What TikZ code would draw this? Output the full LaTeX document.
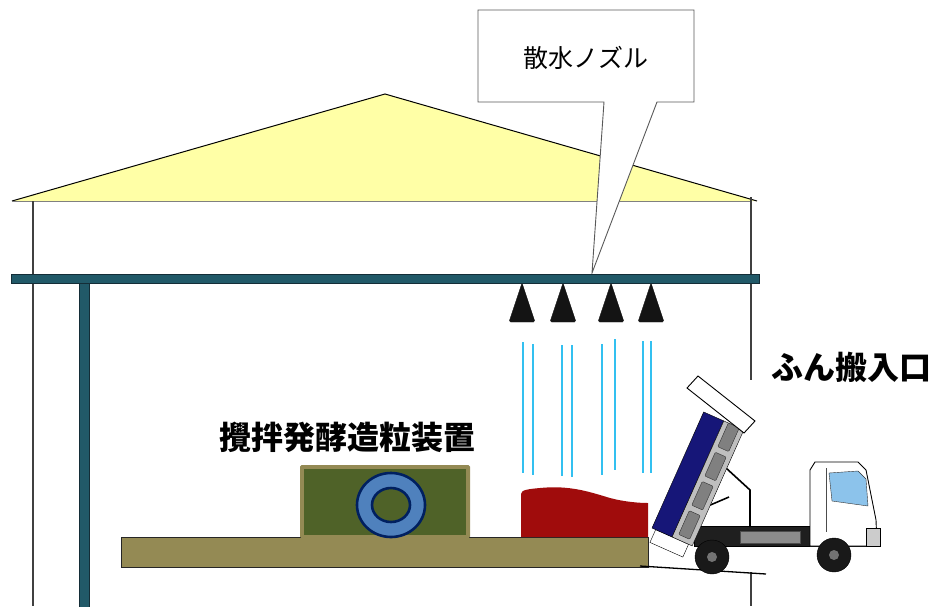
\documentclass[tikz,border=0pt]{standalone}
\usepackage{fontspec}
\usepackage{tikz}
\usetikzlibrary{positioning}
\newfontfamily\jp{Noto Sans CJK JP}
\definecolor{roofyellow}{RGB}{255,255,166}
\definecolor{beamteal}{RGB}{33,89,104}
\definecolor{beamedge}{RGB}{20,45,55}
\definecolor{khaki}{RGB}{148,138,84}
\definecolor{mossgreen}{RGB}{79,98,40}
\definecolor{ringblue}{RGB}{79,129,189}
\definecolor{ringnavy}{RGB}{0,32,96}
\definecolor{pilered}{RGB}{160,12,12}
\definecolor{spray}{RGB}{51,192,240}
\definecolor{bednavy}{RGB}{22,22,120}
\definecolor{glass}{RGB}{140,195,235}

\begin{document}
\begin{tikzpicture}
  [
    x=1pt, y=-1pt,
    Wall/.style={draw=black!75, line width=1.2pt},
    Beam/.style={fill=beamteal, draw=beamedge, line width=0.8pt},
    Nozzle/.style={fill=black!92, draw=black!92, rounded corners=1.5pt},
    Spray/.style={draw=spray, line width=1.4pt},
    Callout/.style={fill=white, draw=black!65, line width=0.9pt},
    Label/.style={font=\jp\fontsize{25}{28}\selectfont, inner sep=0pt},
    BoldLabel/.style={font=\jp\bfseries\fontsize{32}{35}\selectfont, inner sep=0pt},
    Wheel/.style={fill=black!90, draw=black}
  ]
  \useasboundingbox (0,0) rectangle (931,606);
  % Roof
  \fill[roofyellow] (12,201) -- (385,94) -- (757,201) -- cycle;
  \draw[black, line width=1pt] (12,201) -- (385,94) -- (757,201);
  \draw[black!50, line width=0.6pt] (12,201) -- (750,201);
  % Walls
  \draw[Wall] (33,201) -- (33,606);
  \draw[Wall] (751,197) -- (751,380);
  \draw[Wall] (751,572) -- (751,606);
  % Callout
  \draw[Callout] (478,10) -- (694,10) -- (694,102) -- (657,102)
    -- (592,273) -- (604,102) -- (478,102) -- cycle;
  \node[Label] (nozzlelabel) at (586,58) {散水ノズル};
  % Beam and column
  \draw[Beam] (11,274) rectangle (759,283);
  \draw[Beam] (79,283) rectangle (89,607);
  % Nozzles
  \foreach \cx [count=\i] in {522,563,611,651} {
    \draw[Nozzle] (\cx,283) -- (\cx+13,322) -- (\cx-13,322) -- cycle;
  }
  % Water
  \foreach \sx/\sa/\sb in {523/342/473, 533/344/475, 562/345/476, 572/345/477,
                          602/344/475, 615/339/470, 643/341/473, 651/341/473} {
    \draw[Spray] (\sx,\sa) -- (\sx,\sb);
  }
  % Floor and mixer
  \draw[fill=khaki, draw=black!85, line width=1pt] (121,537) rectangle (648,567);
  \fill[khaki, rounded corners=1.5pt] (300,465) rectangle (470,538);
  \fill[mossgreen] (304,469) rectangle (466,535);
  \draw[fill=ringblue, draw=ringnavy, line width=2.6pt] (391,505) ellipse [x radius=34, y radius=32];
  \draw[fill=mossgreen, draw=ringnavy, line width=2.6pt] (391,505) ellipse [x radius=19, y radius=17];
  \node[BoldLabel] (mixerlabel) at (347,437) {攪拌発酵造粒装置};
  % Manure pile
  \fill[pilered] (521,537) -- (521,494) .. controls (521,490) and (528,489) .. (540,488)
    .. controls (570,485) and (590,492) .. (610,498)
    .. controls (625,502) and (640,503) .. (648,503) -- (648,537) -- cycle;
  % Ramp
  \draw[black, line width=1.3pt] (640,566) -- (766,574);
  % Dump truck
  \draw[fill=black!88] (694,526) rectangle (872,546);
  \draw[fill=black!45, draw=black!70] (740,531) rectangle (800,543);
  \draw[fill=white, draw=black, line width=0.9pt] (810,546) -- (810,470) -- (815,462)
    -- (858,462) -- (866,470) -- (876,520) -- (877,546) -- cycle;
  \draw[fill=glass, draw=black!80] (829,473) -- (858,471) -- (866,479) -- (868,506) -- (832,501) -- cycle;
  \draw[black!70] (826,468) -- (826,532);
  \draw[fill=black!20, draw=black] (866,528) rectangle (880,546);
  \draw[black, line width=1.6pt] (726,468) -- (750,490) -- (750,527);
  \draw[black, line width=1.6pt] (708,506) -- (729,497);
  \begin{scope}[shift={(652,528)}, rotate=66]
    \draw[fill=white, draw=black] (-14,4) rectangle (0,40);
    \draw[fill=bednavy, draw=black] (0,0) rectangle (127,22);
    \draw[fill=black!25, draw=black] (0,22) rectangle (127,44);
    \foreach \s in {5,37,69,101} {
      \draw[fill=black!50, draw=black!80, rounded corners=1pt] (\s,27) rectangle (\s+26,39);
    }
  \end{scope}
  \draw[fill=white, draw=black, line width=0.9pt] (687,388) -- (698,376) -- (755,421) -- (744,433) -- cycle;
  \draw[Wheel] (712,557) circle [radius=17];
  \draw[Wheel] (834,555) circle [radius=17];
  \fill[black!55] (712,557) circle [radius=5];
  \fill[black!55] (834,555) circle [radius=5];
  \node[BoldLabel] (entrylabel) at (851,367) {ふん搬入口};
\end{tikzpicture}
\end{document}
